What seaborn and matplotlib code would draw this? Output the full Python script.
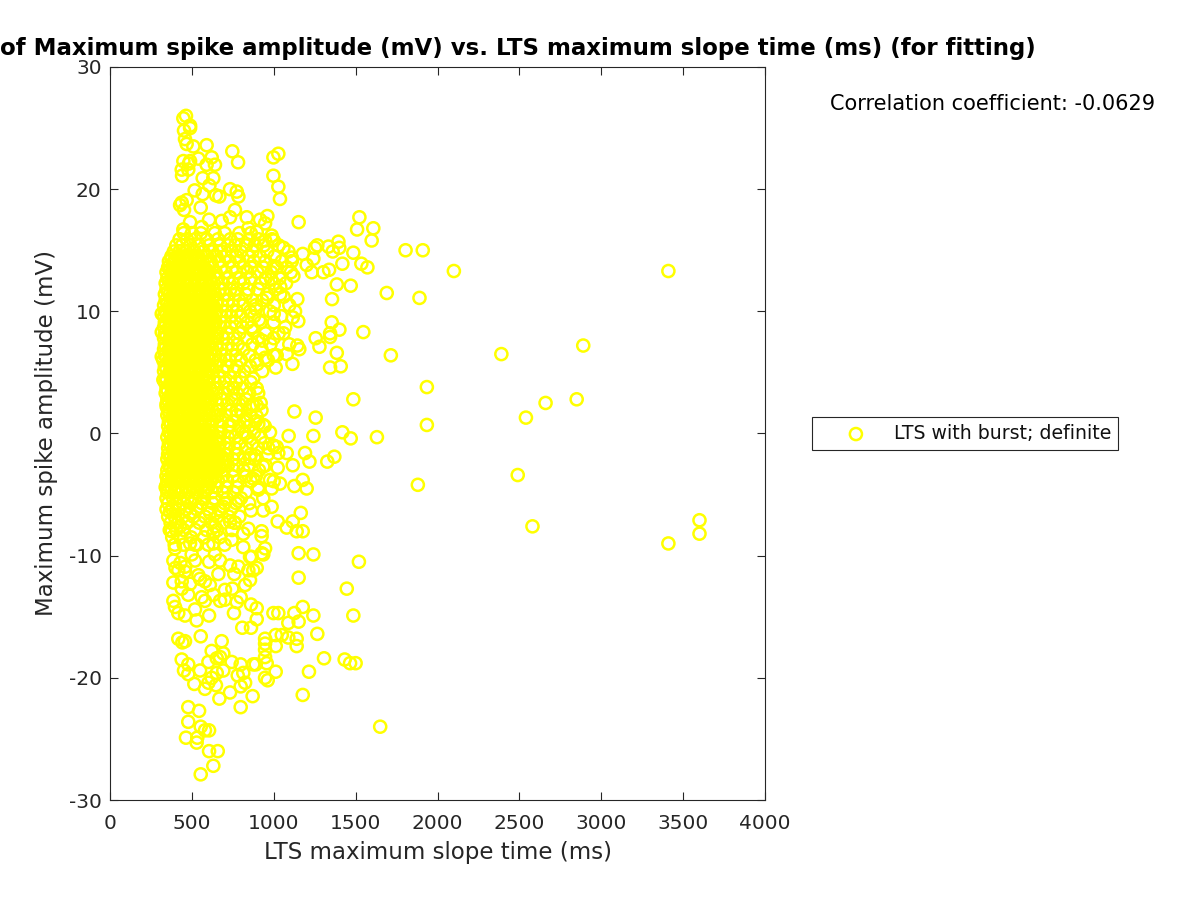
import pandas as pd
import matplotlib
matplotlib.use('Agg')
import matplotlib.pyplot as plt
import seaborn as sns

# points that can be told apart in the picture
outer_time = [3410, 3410, 3600, 3600, 2890, 2850, 2660, 2540, 2390, 2490, 2580, 2100, 1935, 1935, 1890, 1880, 1910, 1805, 1690, 1715,
              1630, 1650, 1598, 1608, 1523, 1509, 1535, 1572, 1470, 1486, 1547, 1486, 1470, 1419, 1520, 1486, 1446, 1433, 1466, 1500,
              1385, 1395, 1400, 1419, 1401, 1354, 1344, 1344, 1356, 1385, 1409, 1344, 1370, 1327, 1303, 1266, 1252, 1334, 1360, 1338,
              1242, 1232, 1256, 1279, 1242, 1256, 1191, 1218, 1126, 1177, 1201, 1126, 1242, 1152, 1152, 1165, 1140, 1177, 1116, 1079,
              1266, 1177, 1126, 1152, 1242, 1089, 1140, 1140, 1307, 1215, 1177, 1152, 1201, 1177, 1110, 1144, 1120, 1130, 1059, 1150,
              1116, 1059, 1144, 1156, 1018, 1079, 1114, 1012, 1091, 998, 967, 1018, 1028, 1079, 1116, 1024, 1038, 987, 977, 1024]
outer_amp = [13.3, -9.0, -7.1, -8.2, 7.2, 2.8, 2.5, 1.3, 6.5, -3.4, -7.6, 13.3, 3.8, 0.7, 11.1, -4.2, 15.0, 15.0, 11.5, 6.4,
             -0.3, -24.0, 15.8, 16.8, 17.7, 16.7, 13.9, 13.6, 12.1, 14.8, 8.3, 2.8, -0.4, 0.1, -10.5, -14.9, -12.7, -18.5, -18.8, -18.8,
             12.2, 15.7, 15.2, 13.9, 8.5, 9.1, 8.2, 7.9, 11.0, 6.6, 5.5, 5.4, -1.9, -2.3, 13.2, 15.4, 15.2, 15.3, 14.9, 13.4,
             14.3, 13.2, 7.8, 7.1, -0.2, 1.3, -1.6, -2.3, 1.8, -3.8, -4.5, -4.3, -9.9, -11.8, -9.8, -6.5, -8.0, -8.0, -7.2, -7.7,
             -16.4, -14.2, -14.7, -15.4, -14.9, -15.5, -16.8, -17.4, -18.4, -19.5, -21.4, 17.3, 13.8, 14.7, 14.4, 11.0, 12.9, 10.0, 15.2, 9.2,
             9.5, 8.2, 7.2, 6.9, 6.4, 6.5, 5.7, 5.4, -0.2, -1.0, -1.2, -1.1, -1.6, -1.6, -2.6, -2.8, -4.1, -4.5, -3.8, -7.2]

top_time = [464, 448, 489, 452, 489, 458, 468, 590, 509, 747, 782, 1028, 998, 621, 540, 448, 489, 590, 641, 482,
            438, 478, 440, 566, 631, 998, 1028, 607, 517, 733, 774, 784, 566, 647, 668, 1038, 468, 438, 428, 452,
            554, 763, 733, 835, 961, 916, 947, 845, 896, 605, 489, 682, 560, 448, 987, 947, 1000]
top_amp = [26.0, 25.8, 25.2, 24.8, 25.0, 24.1, 23.7, 23.6, 23.5, 23.1, 22.2, 22.9, 22.6, 22.6, 22.5, 22.3, 22.3, 22.0, 22.0, 22.1,
           21.6, 21.6, 21.1, 20.9, 20.9, 21.1, 20.2, 20.3, 19.9, 20.0, 19.8, 19.4, 19.6, 19.5, 19.4, 19.2, 19.1, 18.9, 18.7, 18.3,
           18.5, 18.3, 17.7, 17.7, 17.8, 17.5, 17.2, 16.8, 16.5, 17.5, 17.3, 17.4, 16.9, 16.7, 16.2, 15.8, 15.8]

right_mid_time = [900, 875, 896, 753, 763, 875, 920, 896, 855, 774, 652, 896, 906, 936, 835, 733, 825, 977, 998, 855,
                  886, 936, 906, 875, 784, 936, 987, 936, 861, 926, 926, 814, 845, 763, 733, 672, 692, 814, 743, 631,
                  947, 926, 855, 489, 550, 611, 641, 631, 489, 519, 397, 377, 428, 468, 366, 346, 346, 326, 316, 316, 316,
                  947, 875, 890, 910, 930, 1000, 960, 985, 1040, 1060, 1000]
right_mid_amp = [5.7, 4.5, 3.7, 3.7, 2.8, 2.3, 2.5, 2.3, 2.2, 1.9, 1.4, 1.4, 0.8, 0.7, 1.1, 0.7, 0.0, 0.1, -1.0, -2.0,
                 -1.8, -2.7, -4.6, -3.7, -5.5, -5.3, -6.0, -6.3, -6.3, -8.0, -8.4, -8.2, -7.8, -7.3, -7.2, -6.3, -6.0, -9.3, -8.7, -9.0,
                 -9.4, -9.8, -10.1, -6.5, -6.0, -6.5, -7.6, -8.2, -9.0, -9.1, -9.4, -8.0, -7.6, -7.3, -6.4, -4.2, 2.2, 4.4, 6.3, 8.3, 9.8,
                 6.2, 8.4, 10.2, 9.3, 7.6, 9.8, 11.1, 12.6, 12.0, 11.2, 13.7]

low_time = [1012, 947, 947, 947, 947, 957, 1012, 947, 963, 875, 890, 871, 798, 743, 814, 780, 825, 798, 733, 668,
            798, 682, 554, 458, 417, 442, 621, 692, 672, 652, 601, 550, 478, 438, 452, 478, 692, 652, 621, 601,
            580, 515, 647, 478, 544, 478, 554, 580, 605, 464, 533, 529, 605, 658, 631, 554,
            1089, 1049, 998, 1028, 1012, 387, 387, 397, 417, 458, 529, 605, 519, 757, 808, 861, 896, 896, 861, 774,
            798, 672, 702, 580, 560, 631, 478, 438, 702, 747, 825, 855, 580, 550, 662, 759, 875, 845, 896, 784,
            733, 672, 605, 519, 387, 458, 417, 499, 865, 936, 641, 489, 438, 400, 430, 460, 540, 610]
low_amp = [-16.5, -16.8, -17.2, -17.7, -18.3, -18.8, -19.5, -20.0, -20.2, -18.9, -18.9, -21.5, -18.9, -18.7, -19.6, -19.8, -20.4, -20.7, -21.2, -21.7,
           -22.4, -17.0, -16.6, -17.0, -16.8, -17.1, -17.8, -18.0, -18.3, -18.4, -18.7, -19.4, -18.9, -18.5, -19.4, -19.7, -19.4, -19.6, -20.0, -20.4,
           -20.9, -20.5, -20.6, -22.4, -22.7, -23.6, -24.0, -24.3, -24.3, -24.9, -24.9, -25.3, -26.0, -26.0, -27.2, -27.9,
           -16.7, -16.5, -14.7, -14.7, -17.4, -12.2, -13.7, -14.2, -14.7, -14.9, -15.3, -14.9, -14.4, -14.7, -15.9, -15.9, -15.2, -14.3, -14.0, -13.8,
           -13.4, -13.7, -13.6, -13.7, -13.4, -13.2, -13.2, -12.7, -12.8, -12.7, -12.4, -12.0, -12.1, -11.9, -11.5, -11.5, -11.2, -11.2, -11.0, -10.9,
           -10.8, -10.4, -10.5, -10.4, -10.4, -11.3, -11.2, -9.9, -10.1, -9.9, -9.9, -12.3, -12.1, -11.0, -10.6, -10.9, -11.6, -12.4]

# dense cloud, read band by band
core_amp = [16.4, 15.9, 15.4, 14.9, 14.5, 14.1, 13.6, 13.2, 12.7, 12.3, 11.8, 11.4, 10.9, 10.5, 10.0, 9.6, 9.1, 8.7, 8.2, 7.8,
            7.3, 6.9, 6.4, 6.0, 5.5, 5.1, 4.6, 4.2, 3.7, 3.3, 2.8, 2.4, 1.9, 1.5, 1.0, 0.6, 0.1, -0.3, -0.8, -1.2,
            -1.7, -2.1, -2.6, -3.0, -3.5, -3.9, -4.4, -4.8, -5.3, -5.7, -6.2, -6.8, -7.3, -7.9, -8.5, -9.1]
core_time = [
    [450, 500, 555, 640, 700, 790, 860],
    [425, 470, 520, 590, 660, 735, 780, 850, 905, 990],
    [405, 440, 490, 545, 605, 670, 720, 765, 830, 885, 940, 1030],
    [390, 425, 465, 515, 570, 625, 680, 745, 800, 870, 960, 1090],
    [375, 410, 450, 495, 540, 595, 650, 705, 770, 845, 915, 1005],
    [360, 390, 430, 475, 520, 565, 615, 665, 730, 790, 880, 950, 1050, 1110],
    [355, 395, 440, 480, 525, 575, 625, 680, 750, 815, 860, 935, 1020, 1080],
    [345, 375, 420, 460, 505, 550, 600, 645, 705, 770, 840, 900, 985, 1105],
    [350, 385, 430, 470, 515, 560, 610, 660, 720, 795, 860, 950, 1035],
    [340, 370, 410, 455, 495, 540, 585, 635, 690, 750, 815, 920, 1000, 1075],
    [345, 390, 435, 475, 520, 565, 610, 670, 735, 775, 845, 905, 1010],
    [335, 365, 410, 450, 495, 540, 590, 640, 700, 760, 830, 960, 1040],
    [340, 385, 425, 470, 515, 560, 605, 655, 720, 790, 870, 930],
    [330, 365, 405, 450, 490, 535, 580, 630, 685, 750, 815, 890, 1000, 1095],
    [335, 380, 420, 465, 510, 555, 600, 650, 710, 775, 855, 975],
    [330, 360, 400, 445, 485, 530, 575, 625, 680, 740, 800, 880, 1045],
    [335, 375, 420, 460, 505, 550, 600, 645, 700, 765, 840, 920, 1000],
    [330, 360, 405, 450, 490, 535, 580, 625, 675, 735, 810, 865, 1070],
    [335, 380, 425, 465, 510, 555, 600, 655, 715, 790, 950, 1030],
    [330, 365, 410, 450, 495, 540, 585, 635, 690, 755, 835, 905, 1000],
    [335, 375, 420, 465, 510, 555, 605, 650, 720, 780, 870, 980, 1095],
    [330, 360, 405, 450, 490, 535, 580, 625, 680, 745, 815, 925],
    [335, 380, 420, 465, 505, 550, 595, 645, 705, 770, 850, 1000],
    [325, 360, 400, 445, 490, 530, 575, 625, 675, 730, 800, 890, 965],
    [335, 375, 420, 460, 505, 550, 600, 650, 715, 775, 855],
    [330, 365, 410, 450, 495, 540, 585, 630, 690, 760, 820, 930],
    [340, 385, 425, 470, 515, 560, 605, 665, 735, 795],
    [335, 370, 410, 455, 500, 545, 590, 640, 700, 770, 860],
    [345, 385, 430, 470, 515, 560, 610, 655, 725, 810],
    [340, 375, 420, 460, 505, 550, 595, 650, 700, 775, 850, 905],
    [350, 390, 435, 480, 525, 570, 620, 680, 745, 830],
    [345, 380, 425, 470, 510, 555, 600, 655, 715, 790, 870],
    [355, 395, 440, 485, 530, 575, 625, 670, 740, 800, 925],
    [350, 385, 430, 475, 520, 565, 610, 660, 705, 775, 855],
    [360, 400, 445, 490, 535, 580, 625, 680, 750, 820, 890],
    [355, 390, 435, 480, 520, 565, 615, 670, 725, 790, 850, 945],
    [360, 400, 445, 490, 530, 580, 625, 675, 735, 810, 880],
    [350, 390, 430, 475, 520, 565, 610, 660, 720, 765, 840, 920],
    [360, 400, 445, 490, 535, 580, 625, 670, 725, 790, 870, 945],
    [355, 390, 435, 480, 525, 570, 615, 665, 710, 765, 830, 905],
    [355, 400, 445, 490, 530, 575, 620, 665, 715, 780, 860, 965],
    [350, 390, 430, 475, 520, 565, 610, 655, 700, 750, 820, 885],
    [360, 400, 445, 490, 530, 575, 620, 665, 720, 775, 850, 950],
    [350, 385, 430, 475, 520, 560, 605, 650, 695, 755, 815, 910],
    [345, 380, 425, 465, 510, 555, 600, 645, 690, 750, 830, 890],
    [350, 395, 440, 480, 525, 570, 615, 660, 715, 780, 860, 1000],
    [340, 375, 420, 465, 510, 555, 600, 650, 710, 775, 905],
    [350, 395, 435, 480, 525, 570, 625, 690, 755, 830],
    [345, 385, 430, 475, 520, 575, 640, 715, 800],
    [355, 400, 445, 495, 560, 625, 700, 770, 850],
    [345, 380, 420, 465, 530, 600, 665, 740],
    [355, 395, 445, 510, 580, 655, 725, 790],
    [370, 415, 470, 545, 620, 690, 760],
    [365, 405, 450, 520, 590, 655, 745],
    [380, 430, 495, 575, 670],
    [395, 450, 530, 600, 700],
]

# the part of the cloud that is solid yellow
fill_amp = [14.3, 13.4, 12.5, 11.6, 10.7, 9.8, 8.9, 8.0, 7.1, 6.2, 5.3, 4.4, 3.5, 2.6, 1.7, 0.8, -0.1, -1.0, -1.9, -2.8, -3.7, -4.6,
            13.9, 13.0, 12.1, 11.2, 10.3, 9.4, 8.5, 7.6, 6.7, 5.8, 4.9, 4.0, 3.1, 2.2, 1.2, 0.3, -0.5, -1.4, -2.3, -3.2]
fill_time = [
    [375, 400, 445, 490, 535],
    [365, 398, 442, 482, 528, 590],
    [362, 400, 448, 492, 537, 582, 612],
    [355, 392, 432, 472, 518, 562, 612],
    [352, 392, 428, 472, 512, 556, 602, 652],
    [345, 382, 422, 466, 506, 552, 598, 646],
    [342, 378, 418, 462, 506, 548, 592, 636],
    [345, 382, 428, 472, 512, 558, 602, 650],
    [342, 382, 426, 470, 514, 556, 602],
    [345, 380, 426, 468, 512, 556, 606],
    [345, 388, 430, 474, 518, 562, 608],
    [345, 390, 432, 476, 520, 566],
    [352, 392, 436, 480, 524, 566, 620],
    [358, 398, 442, 486, 530, 575],
    [362, 406, 450, 494, 540, 585],
    [372, 418, 462, 506, 552],
    [372, 418, 462, 506, 552, 600],
    [372, 416, 458, 502, 546, 590, 636],
    [372, 416, 460, 504, 548, 592, 638, 682],
    [370, 414, 456, 500, 544, 586, 630, 672],
    [358, 402, 444, 488, 532, 578, 622],
    [352, 398, 442, 488, 535, 585],
    [385, 422, 468, 512, 555, 610],
    [378, 420, 462, 506, 548, 600],
    [372, 425, 470, 515, 560, 602],
    [375, 412, 452, 495, 540, 585, 630],
    [370, 410, 450, 492, 535, 578, 625],
    [362, 402, 444, 486, 530, 572, 620],
    [360, 398, 440, 484, 528, 570, 615],
    [362, 405, 450, 492, 535, 580, 625],
    [360, 404, 448, 492, 535, 578],
    [362, 402, 447, 490, 534, 580],
    [365, 408, 452, 496, 540, 585],
    [368, 410, 454, 498, 542],
    [372, 414, 458, 502, 545, 595],
    [378, 422, 466, 510, 556],
    [385, 428, 472, 516, 560],
    [382, 426, 470, 514, 558, 602],
    [380, 424, 468, 512, 556, 600, 645],
    [382, 425, 468, 510, 554, 598, 642],
    [378, 422, 466, 510, 554, 598, 642, 690],
    [380, 424, 468, 512, 556, 598, 645],
]

# other text of the figure
title_text = 'of Maximum spike amplitude (mV) vs. LTS maximum slope time (ms) (for fitting)'
x_label = 'LTS maximum slope time (ms)'
y_label = 'Maximum spike amplitude (mV)'
legend_label = 'LTS with burst; definite'
corr_text = 'Correlation coefficient: -0.0629'
x_ticks = [0, 500, 1000, 1500, 2000, 2500, 3000, 3500, 4000]
y_ticks = [-30, -20, -10, 0, 10, 20, 30]

core = pd.DataFrame({'amp': core_amp, 'time': core_time}).explode('time')
fill = pd.DataFrame({'amp': fill_amp, 'time': fill_time}).explode('time')
points = pd.concat([
    pd.DataFrame({'time': outer_time, 'amp': outer_amp}),
    pd.DataFrame({'time': top_time, 'amp': top_amp}),
    pd.DataFrame({'time': right_mid_time, 'amp': right_mid_amp}),
    pd.DataFrame({'time': low_time, 'amp': low_amp}),
    core[['time', 'amp']],
    fill[['time', 'amp']],
], ignore_index=True)
points['time'] = points['time'].astype(float)

sns.set_style('ticks')
plt.rcParams['font.family'] = ['DejaVu Sans']
plt.rcParams['axes.unicode_minus'] = False

fig = plt.figure(figsize=(12, 9), dpi=100)
ax = fig.add_axes([110 / 1200, 1 - 800 / 900, 655 / 1200, 733 / 900])

sns.scatterplot(data=points, x='time', y='amp', ax=ax, marker='o', s=76, facecolor='none',
                edgecolor='#ffff00', linewidth=1.8, label=legend_label, clip_on=False)

ax.set_xlim(0, 4000)
ax.set_ylim(-30, 30)
ax.set_xticks(x_ticks)
ax.set_yticks(y_ticks)
ax.tick_params(direction='in', length=5.7, width=0.8, top=True, right=True, labelsize=14.5,
               colors='#262626')
ax.tick_params(axis='x', pad=10)
ax.tick_params(axis='y', pad=6)
ax.set_xlabel(x_label, fontsize=16.5, color='#262626', labelpad=6)
ax.set_ylabel(y_label, fontsize=16.5, color='#262626', labelpad=8)
for s in ax.spines.values():
    s.set_visible(True)
    s.set_linewidth(0.8)
    s.set_color('#262626')

# the start of the title runs off the left edge in the reference
fig.text(0.5 / 1200, 1 - 48 / 900, title_text, fontsize=16.45, fontweight='bold', color='black', va='center', ha='left')
fig.text(830 / 1200, 1 - 104 / 900, corr_text, fontsize=15, color='black', va='center', ha='left')

leg = ax.legend(loc='center left', bbox_to_anchor=(812 / 1200, 1 - 433.5 / 900), bbox_transform=fig.transFigure,
                fontsize=13.6, frameon=True, fancybox=False, framealpha=1, edgecolor='#262626',
                borderaxespad=0, handletextpad=0.03, borderpad=0.35, handlelength=3.95, labelcolor='#111111')
leg.get_frame().set_linewidth(0.8)

fig.savefig('out.png', dpi=100)
